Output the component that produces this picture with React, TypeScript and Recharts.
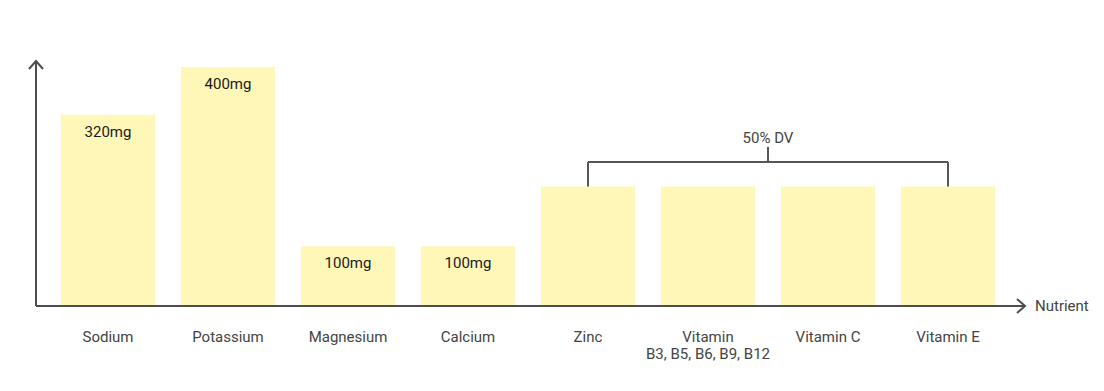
import React from 'react';
import { BarChart, Bar, XAxis, YAxis, LabelList, ReferenceLine, ReferenceDot } from 'recharts';

const NUTRIENTS = ['Sodium', 'Potassium', 'Magnesium', 'Calcium', 'Zinc', 'Vitamin\nB3, B5, B6, B9, B12', 'Vitamin C', 'Vitamin E'];
const AMOUNTS = [320, 400, 100, 100, 200, 200, 200, 200];
const BAR_LABELS = ['320mg', '400mg', '100mg', '100mg', '', '', '', ''];

// 50% DV bracket, in data units
const DV_FIRST = 4;
const DV_LAST = 7;
const DV_TOP = 200;
const DV_BRACKET = 241;
const DV_TICK = 266;
const DV_LABEL = 281;

const BAR_FILL = '#fef7b7';
const AXIS = '#4d4d4d';
const TEXT = '#444';
const FONT = 'Roboto, "Noto Sans", sans-serif';
const FS = 15;

const data = NUTRIENTS.map((name, i) => ({ idx: i, name, amount: AMOUNTS[i], label: BAR_LABELS[i] }));

function Tick(props: any) {
  const { x, y, payload } = props;
  const lines = NUTRIENTS[payload.value].split('\n');
  return (
    <text x={x} y={y + 28} textAnchor="middle" fill={TEXT} fontSize={FS} fontFamily={FONT}>
      {lines.map((l, i) => (
        <tspan key={i} x={x} dy={i === 0 ? 0 : 17}>{l}</tspan>
      ))}
    </text>
  );
}

function BarLabel(props: any) {
  const { x, y, width, value } = props;
  if (!value) return null;
  return (
    <text x={x + width / 2} y={y + 22} textAnchor="middle" fill="#1a1a1a" fontSize={FS} fontFamily={FONT}>
      {value}
    </text>
  );
}

function AxisName(props: any) {
  const vb = props.viewBox;
  return (
    <text x={vb.x + vb.width + 10} y={vb.y + 5} fill={TEXT} fontSize={FS} fontFamily={FONT}>
      Nutrient
    </text>
  );
}

export default function App() {
  const line = { stroke: '#555', strokeWidth: 2 };
  return (
    <div style={{ position: 'absolute', left: 0, top: 0, width: 1104, height: 391, background: '#fff' }}>
      <svg width={0} height={0} style={{ position: 'absolute' }}>
        <defs>
          <marker id="arrow" viewBox="-10 -10 20 20" markerWidth={20} markerHeight={20} refX={0} refY={0}
            orient="auto-start-reverse" markerUnits="userSpaceOnUse" overflow="visible">
            <path d="M-8,-7 L0,0 L-8,7" fill="none" stroke={AXIS} strokeWidth={2} />
          </marker>
        </defs>
      </svg>
      <BarChart width={1104} height={391} data={data} margin={{ top: 61, right: 79, bottom: 45, left: 0 }}>
        <XAxis
          type="number"
          dataKey="idx"
          domain={[-0.5, 7.5]}
          ticks={[0, 1, 2, 3, 4, 5, 6, 7]}
          padding={{ left: 12, right: 17 }}
          height={40}
          tickLine={false}
          axisLine={{ stroke: AXIS, strokeWidth: 2, markerEnd: 'url(#arrow)' } as any}
          tick={<Tick />}
          label={<AxisName />}
          interval={0}
        />
        <YAxis
          domain={[0, 400]}
          width={36}
          padding={{ top: 6 }}
          tick={false}
          tickLine={false}
          axisLine={{ stroke: AXIS, strokeWidth: 2, markerStart: 'url(#arrow)' } as any}
        />
        <Bar dataKey="amount" fill={BAR_FILL} barSize={94} isAnimationActive={false}>
          <LabelList dataKey="label" content={<BarLabel />} />
        </Bar>
        <ReferenceLine segment={[{ x: DV_FIRST, y: DV_BRACKET }, { x: DV_LAST, y: DV_BRACKET }]} {...line} />
        <ReferenceLine segment={[{ x: DV_FIRST, y: DV_TOP }, { x: DV_FIRST, y: DV_BRACKET }]} {...line} />
        <ReferenceLine segment={[{ x: DV_LAST, y: DV_TOP }, { x: DV_LAST, y: DV_BRACKET }]} {...line} />
        <ReferenceLine
          segment={[{ x: (DV_FIRST + DV_LAST) / 2, y: DV_BRACKET }, { x: (DV_FIRST + DV_LAST) / 2, y: DV_TICK }]}
          {...line}
        />
        <ReferenceDot
          x={(DV_FIRST + DV_LAST) / 2}
          y={DV_LABEL}
          r={0}
          fill="none"
          stroke="none"
          label={{ value: '50% DV', position: 'center', fill: TEXT, fontSize: FS, fontFamily: FONT }}
        />
      </BarChart>
    </div>
  );
}
